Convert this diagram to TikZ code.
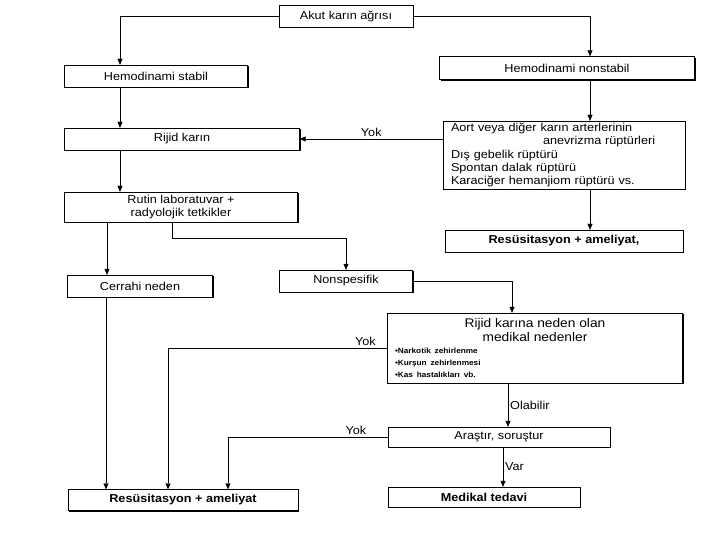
\documentclass[tikz,border=0pt]{standalone}
\usepackage{fontspec}
\setmainfont{Liberation Sans}[FakeStretch=1.1]
\usetikzlibrary{calc, shapes, positioning, shadows, arrows.meta}

\begin{document}
\begin{tikzpicture}[x=1pt, y=-1pt, thin,
	box/.style={shape=rectangle, draw=black, fill=white, inner sep=2pt, font=\fontsize{11.5}{13}\selectfont,
		drop shadow={shadow xshift=1.2pt, shadow yshift=-1.2pt, fill=black, opacity=1}},
	bbox/.style={box, font=\fontsize{11.5}{13}\selectfont\bfseries},
	link/.style={-{Triangle[length=6pt, width=5pt]}},
	lbl/.style={font=\fontsize{11.5}{13}\selectfont, inner sep=2pt}]
\useasboundingbox (0,0) rectangle (720,540);
% upper part
\node[box, minimum width=134pt, minimum height=22pt] (akut) at (346,16) {Akut karın ağrısı};
\node[box, minimum width=183pt, minimum height=22pt] (hstab) at (156,76) {Hemodinami stabil};
\node[box, minimum width=255pt, minimum height=23pt] (hnon) at (567,68) {Hemodinami nonstabil};
\node[box, minimum width=235pt, minimum height=22pt] (rijid) at (182,139) {Rijid karın};
\node[box, minimum width=242pt, minimum height=68pt, text width=226pt, font=\fontsize{11.5}{13.2}\selectfont] (aort) at (564,155)
	{Aort veya diğer karın arterlerinin\\ \hspace*{92pt}anevrizma rüptürleri\\ Dış gebelik rüptürü\\ Spontan dalak rüptürü\\ Karaciğer hemanjiom rüptürü vs.};
\node[box, minimum width=233pt, minimum height=30pt, align=center, font=\fontsize{11.5}{12.5}\selectfont] (rutin) at (181,207) {Rutin laboratuvar +\\ radyolojik tetkikler};
\node[bbox, minimum width=238pt, minimum height=22pt] (resu1) at (564,241) {Resüsitasyon + ameliyat,};
% lower part
\node[box, minimum width=145pt, minimum height=22pt] (cerrahi) at (140,286) {Cerrahi neden};
\node[box, minimum width=133pt, minimum height=22pt] (nonsp) at (346,281) {Nonspesifik};
\node[box, minimum width=295pt, minimum height=70pt, text width=280pt] (medik) at (535,348)
	{{\centering\fontsize{12.5}{13.5}\selectfont Rijid karına neden olan\\ medikal nedenler\par}
	{\fontsize{7.5}{12}\selectfont\bfseries \textbullet Narkotik zehirlenme\\ \textbullet Kurşun zehirlenmesi\\ \textbullet Kas hastalıkları vb.\par}};
\node[box, minimum width=222pt, minimum height=20pt] (arastir) at (499,437) {Araştır, soruştur};
\node[bbox, minimum width=192pt, minimum height=20pt] (medted) at (484,497) {Medikal tedavi};
\node[bbox, minimum width=230pt, minimum height=21pt] (resu2) at (183,500) {Resüsitasyon + ameliyat};
% connectors
\draw[link] (akut.west) -| ([xshift=-36pt]hstab.north);
\draw[link] (akut.east) -| ([xshift=23pt]hnon.north);
\draw[link] ([xshift=-36pt]hstab.south) -- ([xshift=-36pt]hstab.south |- rijid.north);
\draw[link] ([xshift=23pt]hnon.south) -- ([xshift=23pt]hnon.south |- aort.north);
\draw[link] (aort.west |- rijid.east) -- (rijid.east) node[lbl, midway, above] {Yok};
\draw[link] ([xshift=-62pt]rijid.south) -- ([xshift=-62pt]rijid.south |- rutin.north);
\draw[link] ([xshift=26pt]aort.south) -- ([xshift=26pt]aort.south |- resu1.north);
\draw[link] ([xshift=-74pt]rutin.south) -- ([xshift=-74pt]rutin.south |- cerrahi.north);
\draw[link] ([xshift=-9pt]rutin.south) -- ++(0,16) -| (nonsp.north);
\draw[link] (nonsp.east) -| ([xshift=-23pt]medik.north);
\draw[link] (medik.west) -| ([xshift=-15pt]resu2.north) node[lbl, pos=0.05, above] {Yok};
\draw[link] ([xshift=-27pt]medik.south) -- ([xshift=-27pt]medik.south |- arastir.north) node[lbl, midway, right] {Olabilir};
\draw[link] (arastir.west) -| ([xshift=45pt]resu2.north) node[lbl, pos=0.1, above] {Yok};
\draw[link] ([xshift=19pt]medted.north |- arastir.south) -- ([xshift=19pt]medted.north) node[lbl, midway, right] {Var};
\draw[link] ([xshift=-34pt]cerrahi.south) -- ([xshift=-34pt]cerrahi.south |- resu2.north);
\end{tikzpicture}
\end{document}
